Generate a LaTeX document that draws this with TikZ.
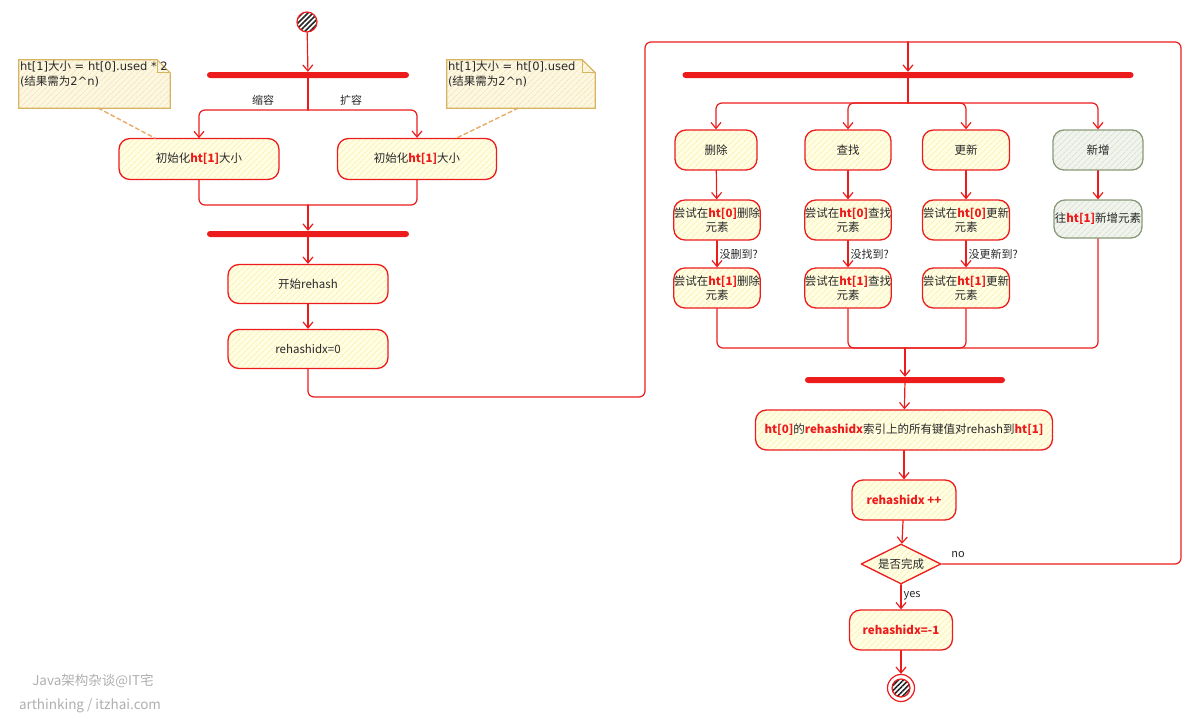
\documentclass[tikz,border=0pt]{standalone}
\usepackage{fontspec}
\setmainfont{Noto Sans CJK SC}
\newfontfamily\notelat{DejaVu Sans}
\usepackage{xcolor}
\usetikzlibrary{arrows.meta,shapes.geometric,patterns.meta,backgrounds}

\definecolor{rhred}{RGB}{236,28,28}
\definecolor{actbg}{RGB}{255,253,228}
\definecolor{acthatch}{RGB}{246,236,150}
\definecolor{addline}{RGB}{138,154,120}
\definecolor{addbg}{RGB}{241,244,237}
\definecolor{addhatch}{RGB}{205,214,196}
\definecolor{noteline}{RGB}{214,180,98}
\definecolor{notebg}{RGB}{253,247,225}
\definecolor{notehatch}{RGB}{240,222,165}
\definecolor{notedash}{RGB}{232,170,100}
\definecolor{txt}{RGB}{40,40,40}
\definecolor{wmgray}{RGB}{175,175,175}

\newcommand{\redb}[1]{\textcolor{rhred}{\textbf{#1}}}
\newcommand{\nl}[1]{{\notelat #1}}

\begin{document}
\begin{tikzpicture}[line cap=round,line join=round,x=1pt,y=-1pt,
    every node/.style={font=\fontsize{11.5}{14}\selectfont,text=txt},
    >={Straight Barb[length=6pt,width=10pt]},
    flow/.style={draw=rhred,line width=1.2pt,rounded corners=6pt},
    act/.style={draw=rhred,line width=1.3pt,rounded corners=11pt,minimum height=40pt,inner sep=0pt,align=center,
        preaction={fill=actbg},pattern={Lines[angle=45,distance=4pt,line width=0.6pt]},pattern color=acthatch},
    addact/.style={act,draw=addline,preaction={fill=addbg},pattern color=addhatch},
    cond/.style={diamond,aspect=2,draw=rhred,line width=1.3pt,minimum width=80pt,minimum height=40pt,inner sep=0pt,
        preaction={fill=actbg},pattern={Lines[angle=45,distance=4pt,line width=0.6pt]},pattern color=acthatch},
    bar/.style={fill=rhred,rounded corners=3pt,minimum height=6pt,inner sep=0pt},
    startdot/.style={circle,draw=rhred,line width=1.2pt,minimum size=20pt,inner sep=0pt,
        preaction={fill=white},pattern={Lines[angle=45,distance=3.6pt,line width=1.6pt]},pattern color=black!85},
    stopdot/.style={circle,draw=rhred,line width=1.2pt,minimum size=27pt,inner sep=0pt,fill=white,
        path picture={\draw[rhred,line width=1.2pt,preaction={fill=white},pattern={Lines[angle=45,distance=3.6pt,line width=1.6pt]},pattern color=black!85]
            (path picture bounding box.center) circle (9pt);}},
    notetext/.style={minimum width=151pt,minimum height=48pt,inner sep=1pt,font=\fontsize{11.5}{15}\selectfont},
    notebox/.style={draw=noteline,line width=1.2pt,preaction={fill=notebg},pattern={Lines[angle=45,distance=4pt,line width=0.6pt]},pattern color=notehatch},
    notelink/.style={draw=notedash,line width=1.4pt,dash pattern=on 4pt off 3pt},
    lbl/.style={font=\fontsize{11}{13}\selectfont,inner sep=2pt},
    wm/.style={text=wmgray,font=\fontsize{13.5}{16}\selectfont}]
    \clip (0,0) rectangle (1200,718);

    % left part: grow / shrink ht[1]
    \node[startdot] (start) at (307,22) {};
    \node[bar,minimum width=202pt] (fork1) at (308,75) {};
    \node[lbl] (shrink) at (263,100) {缩容};
    \node[lbl] (grow) at (351,100) {扩容};
    \node[act,minimum width=160pt,minimum height=41pt] (init1) at (199,159) {初始化\redb{ht[1]}大小};
    \node[act,minimum width=159pt,minimum height=41pt] (init2) at (417,159) {初始化\redb{ht[1]}大小};
    \node[notetext] (note1) at (94.5,84) {\parbox[c][46pt][t]{149pt}{\nl{ht[1]}大小\nl{ = ht[0].used * 2}\\\nl{(}结果需为\nl{2\textasciicircum n)}}};
    \node[notetext,minimum width=148pt] (note2) at (521,84) {\parbox[c][46pt][t]{146pt}{\nl{ht[1]}大小\nl{ = ht[0].used}\\\nl{(}结果需为\nl{2\textasciicircum n)}}};
    \node[bar,minimum width=202pt] (join1) at (308,234) {};
    \node[act,minimum width=160pt,minimum height=39pt] (begin) at (308,284) {开始rehash};
    \node[act,minimum width=160pt,minimum height=39pt] (idxzero) at (308,349) {rehashidx=0};

    \begin{scope}[on background layer]
        \foreach \n in {note1,note2} {
            \path[notebox] (\n.south west) -- (\n.north west) -- ([xshift=-13pt]\n.north east)
                -- ([yshift=-13pt]\n.north east) -- (\n.south east) -- cycle;
            \draw[noteline,line width=1.2pt] ([xshift=-13pt]\n.north east) -- ([xshift=-13pt,yshift=-13pt]\n.north east)
                -- ([yshift=-13pt]\n.north east);
        }
    \end{scope}

    % right part: operations during rehash
    \node[bar,minimum width=451pt] (fork2) at (908,75) {};
    \node[act,minimum width=82pt] (del) at (716,150) {删除};
    \node[act,minimum width=86pt] (find) at (848,150) {查找};
    \node[act,minimum width=87pt] (upd) at (966,150) {更新};
    \node[addact,minimum width=90pt] (add) at (1098,150) {新增};
    \node[act,minimum width=84pt] (delzero) at (717,220) {尝试在\redb{ht[0]}删除\\元素};
    \node[act,minimum width=86pt] (findzero) at (848,220) {尝试在\redb{ht[0]}查找\\元素};
    \node[act,minimum width=87pt] (updzero) at (966,220) {尝试在\redb{ht[0]}更新\\元素};
    \node[addact,minimum width=88pt,minimum height=38pt] (addone) at (1098,219) {往\redb{ht[1]}新增元素};
    \node[act,minimum width=84pt] (delone) at (717,288) {尝试在\redb{ht[1]}删除\\元素};
    \node[act,minimum width=86pt] (findone) at (848,288) {尝试在\redb{ht[1]}查找\\元素};
    \node[act,minimum width=87pt] (updone) at (966,288) {尝试在\redb{ht[1]}更新\\元素};
    \node[bar,minimum width=200pt] (join2) at (905,380) {};
    \node[act,minimum width=297pt] (move) at (904,430) {\redb{ht[0]}的\redb{rehashidx}索引上的所有键值对rehash到\redb{ht[1]}};
    \node[act,minimum width=104pt] (incr) at (904,500) {\redb{rehashidx ++}};
    \node[cond] (done) at (901,564) {是否完成};
    \node[lbl] (nolbl) at (958,555) {no};
    \node[act,minimum width=103pt] (reset) at (901,630) {\redb{rehashidx=-1}};
    \node[stopdot] (stop) at (901,688) {};

    \coordinate (split1) at (308,110);
    \coordinate (merge1) at (308,205);
    \coordinate (loop) at (908,42);
    \coordinate (split2) at (908,103);
    \coordinate (merge2) at (905,348);

    % connectors
    \draw[flow,->] (start) -- (fork1);
    \draw[flow] (fork1) -- (split1);
    \draw[flow,->] (split1) -| (init1);
    \draw[flow,->] (split1) -| (init2);
    \draw[notelink] ([xshift=4pt]note1.south) -- ([xshift=-44pt]init1.north);
    \draw[notelink] ([xshift=-3pt]note2.south) -- ([xshift=40pt]init2.north);
    \draw[flow] (init1) |- (merge1);
    \draw[flow] (init2) |- (merge1);
    \draw[flow,->] (merge1) -- (join1);
    \draw[flow,->] (join1) -- (begin);
    \draw[flow,->] (begin) -- (idxzero);
    \draw[flow] (idxzero) |- (645,397) |- (loop);
    \draw[flow] (done) -| (1181,42) -- (loop);
    \draw[flow,->] (loop) -- (fork2);
    \draw[flow] (fork2) -- (split2);
    \foreach \n in {del,find,upd,add}
        \draw[flow,->] (split2) -| (\n);
    \draw[flow,->] (del) -- (delzero);
    \draw[flow,->] (find) -- (findzero);
    \draw[flow,->] (upd) -- (updzero);
    \draw[flow,->] (add) -- (addone);
    \draw[flow,->] (delzero) -- node[lbl,right] {没删到?} (delone);
    \draw[flow,->] (findzero) -- node[lbl,right] {没找到?} (findone);
    \draw[flow,->] (updzero) -- node[lbl,right] {没更新到?} (updone);
    \foreach \n in {delone,findone,updone,addone}
        \draw[flow] (\n) |- (merge2);
    \draw[flow,->] (merge2) -- (join2);
    \draw[flow,->] (join2) -- (move);
    \draw[flow,->] (move) -- (incr);
    \draw[flow,->] (incr) -- (done);
    \draw[flow,->] (done) -- node[lbl,right,pos=0.45] {yes} (reset);
    \draw[flow,->] (reset) -- (stop);

    \node[wm] (wm1) at (93,681) {Java架构杂谈@IT宅};
    \node[wm] (wm2) at (90,706) {arthinking / itzhai.com};
\end{tikzpicture}
\end{document}
